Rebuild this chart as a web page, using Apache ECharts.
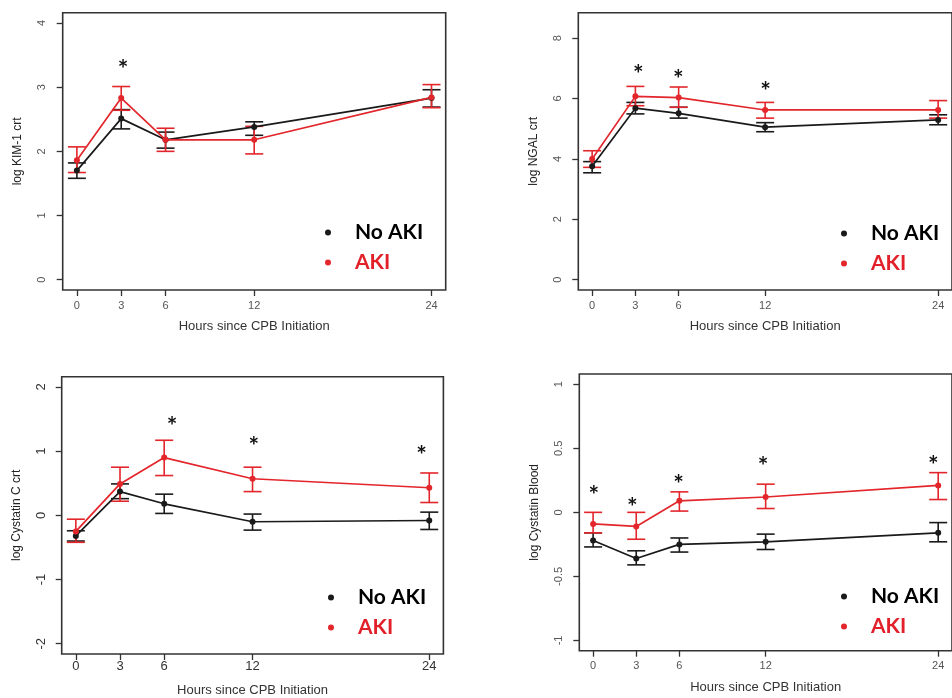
<!DOCTYPE html>
<html><head><meta charset="utf-8">
<script src="https://cdn.jsdelivr.net/npm/echarts@6/dist/echarts.min.js"></script>
<style>html,body{margin:0;padding:0;background:#fff}#c{width:952px;height:698px}</style>
</head><body><div id="c"></div>
<script>
// ---- shared ----
const hours = [0, 3, 6, 12, 24];
const xTickLabels = [0, 3, 6, 12, 24];
const seriesNames = ['No AKI', 'AKI'];

// ---- Panel 1: log KIM-1 crt ----
const kimNoAki   = [1.70, 2.51, 2.18, 2.38, 2.83];
const kimNoAkiLo = [1.58, 2.35, 2.05, 2.25, 2.69];
const kimNoAkiHi = [1.82, 2.65, 2.30, 2.46, 2.96];
const kimAki     = [1.86, 2.83, 2.18, 2.18, 2.84];
const kimAkiLo   = [1.67, 2.64, 2.00, 1.96, 2.68];
const kimAkiHi   = [2.07, 3.01, 2.36, 2.39, 3.04];
const kimStarX   = [3.13];
const kimStarY   = [3.34];
const kimTicks   = [0, 1, 2, 3, 4];

// ---- Panel 2: log NGAL crt ----
const ngalNoAki   = [3.76, 5.68, 5.51, 5.05, 5.29];
const ngalNoAkiLo = [3.54, 5.49, 5.35, 4.90, 5.13];
const ngalNoAkiHi = [3.91, 5.87, 5.71, 5.20, 5.46];
const ngalAki     = [4.00, 6.07, 6.03, 5.62, 5.62];
const ngalAkiLo   = [3.72, 5.76, 5.71, 5.35, 5.35];
const ngalAkiHi   = [4.27, 6.40, 6.38, 5.87, 5.93];
const ngalStarX   = [3.2, 5.97, 12.02];
const ngalStarY   = [6.95, 6.79, 6.38];
const ngalTicks   = [0, 2, 4, 6, 8];

// ---- Panel 3: log Cystatin C crt ----
const cyscNoAki   = [-0.32, 0.37, 0.18, -0.10, -0.08];
const cyscNoAkiLo = [-0.40, 0.26, 0.03, -0.23, -0.22];
const cyscNoAkiHi = [-0.24, 0.49, 0.33, 0.02, 0.05];
const cyscAki     = [-0.25, 0.49, 0.90, 0.57, 0.43];
const cyscAkiLo   = [-0.42, 0.22, 0.62, 0.37, 0.20];
const cyscAkiHi   = [-0.06, 0.75, 1.17, 0.75, 0.66];
const cyscStarX   = [6.54, 12.09, 23.48];
const cyscStarY   = [1.45, 1.14, 1.01];
const cyscTicks   = [-2, -1, 0, 1, 2];

// ---- Panel 4: log Cystatin Blood ----
const cysbNoAki   = [-0.22, -0.36, -0.25, -0.23, -0.16];
const cysbNoAkiLo = [-0.27, -0.41, -0.31, -0.29, -0.23];
const cysbNoAkiHi = [-0.16, -0.30, -0.20, -0.17, -0.08];
const cysbAki     = [-0.09, -0.11, 0.09, 0.12, 0.21];
const cysbAkiLo   = [-0.16, -0.21, 0.01, 0.03, 0.10];
const cysbAkiHi   = [0.00, 0.00, 0.16, 0.22, 0.31];
const cysbStarX   = [0.05, 2.72, 5.94, 11.82, 23.66];
const cysbStarY   = [0.17, 0.07, 0.25, 0.39, 0.40];
const cysbTicks   = [-1, -0.5, 0, 0.5, 1];

const BLACK = '#1a1a1a';
const RED = '#e3262b';

const panels = [
  { yName: 'log KIM-1 crt', yMin: -0.16, yMax: 4.16, yTicks: kimTicks,
    no: [kimNoAki, kimNoAkiLo, kimNoAkiHi], aki: [kimAki, kimAkiLo, kimAkiHi], star: [kimStarX, kimStarY],
    grid: { left: 62.7, top: 12.7, width: 383, height: 277.3 },
    legend: { left: 325, top: 222 }, tickFont: 11, tickColor: '#555', xMargin: 10, yMargin: 15, xGap: 30 },
  { yName: 'log NGAL crt', yMin: -0.34, yMax: 8.84, yTicks: ngalTicks,
    no: [ngalNoAki, ngalNoAkiLo, ngalNoAkiHi], aki: [ngalAki, ngalAkiLo, ngalAkiHi], star: [ngalStarX, ngalStarY],
    grid: { left: 578.3, top: 12.7, width: 383, height: 277.3 },
    legend: { left: 841, top: 223 }, tickFont: 11, tickColor: '#555', xMargin: 10, yMargin: 15, xGap: 30 },
  { yName: 'log Cystatin C crt', yMin: -2.16, yMax: 2.16, yTicks: cyscTicks,
    no: [cyscNoAki, cyscNoAkiLo, cyscNoAkiHi], aki: [cyscAki, cyscAkiLo, cyscAkiHi], star: [cyscStarX, cyscStarY],
    grid: { left: 61.7, top: 376.7, width: 381.7, height: 277.3 },
    legend: { left: 328, top: 587 }, tickFont: 13, tickColor: '#333', xMargin: 6, yMargin: 14, xGap: 30 },
  { yName: 'log Cystatin Blood', yMin: -1.08, yMax: 1.08, yTicks: cysbTicks,
    no: [cysbNoAki, cysbNoAkiLo, cysbNoAkiHi], aki: [cysbAki, cysbAkiLo, cysbAkiHi], star: [cysbStarX, cysbStarY],
    grid: { left: 579.3, top: 374, width: 383, height: 276.7 },
    legend: { left: 841, top: 586 }, tickFont: 11, tickColor: '#555', xMargin: 10, yMargin: 15, xGap: 30 }
];

function errRender(color) {
  return function (params, api) {
    const x = api.value(0), lo = api.value(1), hi = api.value(2);
    const a = api.coord([x, hi]), b = api.coord([x, lo]);
    const w = 9;
    const style = { stroke: color, lineWidth: 1.6 };
    return { type: 'group', children: [
      { type: 'line', shape: { x1: a[0], y1: a[1], x2: b[0], y2: b[1] }, style: style },
      { type: 'line', shape: { x1: a[0] - w, y1: a[1], x2: a[0] + w, y2: a[1] }, style: style },
      { type: 'line', shape: { x1: b[0] - w, y1: b[1], x2: b[0] + w, y2: b[1] }, style: style }
    ] };
  };
}
function starRender(params, api) {
  const p = api.coord([api.value(0), api.value(1)]);
  return { type: 'text', x: p[0], y: p[1] + 5,
    style: { text: '*', fill: '#111', fontSize: 25, fontWeight: 'bold', fontFamily: 'Lato', align: 'center', verticalAlign: 'middle' } };
}

const grids = [], xAxes = [], yAxes = [], series = [], legends = [];
panels.forEach(function (p, i) {
  grids.push(Object.assign({ show: true, borderColor: '#333', borderWidth: 1.6, backgroundColor: 'transparent' }, p.grid));
  xAxes.push({
    type: 'value', gridIndex: i, min: -0.96, max: 24.96,
    axisLine: { show: false, onZero: false },
    axisTick: { show: true, inside: false, customValues: xTickLabels, length: 6, lineStyle: { color: '#333', width: 1.3 } },
    axisLabel: { customValues: xTickLabels, margin: p.xMargin, fontSize: p.tickFont, color: p.tickColor, fontFamily: 'Liberation Sans' },
    splitLine: { show: false },
    name: 'Hours since CPB Initiation', nameLocation: 'middle', nameGap: p.xGap,
    nameTextStyle: { fontSize: 13, color: '#333', fontFamily: 'Liberation Sans' }
  });
  yAxes.push({
    type: 'value', gridIndex: i, min: p.yMin, max: p.yMax,
    axisLine: { show: false, onZero: false },
    axisTick: { show: true, inside: false, customValues: p.yTicks, length: 6, lineStyle: { color: '#333', width: 1.3 } },
    axisLabel: { customValues: p.yTicks, rotate: 90, margin: p.yMargin, fontSize: p.tickFont, color: p.tickColor, fontFamily: 'Liberation Sans' },
    splitLine: { show: false },
    name: p.yName, nameLocation: 'middle', nameGap: 39,
    nameTextStyle: { fontSize: 12, color: '#222', fontFamily: 'Liberation Sans' }
  });
  [[p.no, BLACK, seriesNames[0]], [p.aki, RED, seriesNames[1]]].forEach(function (g) {
    const d = g[0];
    series.push({
      type: 'custom', xAxisIndex: i, yAxisIndex: i, renderItem: errRender(g[1]),
      encode: { x: 0, y: [1, 2] }, silent: true, z: 2,
      data: hours.map(function (h, k) { return [h, d[1][k], d[2][k]]; })
    });
    series.push({
      type: 'line', name: g[2], xAxisIndex: i, yAxisIndex: i, color: g[1],
      symbol: 'circle', symbolSize: 6, lineStyle: { width: 1.7, color: g[1] }, itemStyle: { color: g[1] },
      z: 3, data: hours.map(function (h, k) { return [h, d[0][k]]; })
    });
  });
  series.push({
    type: 'custom', xAxisIndex: i, yAxisIndex: i, renderItem: starRender, silent: true, z: 4,
    encode: { x: 0, y: 1 },
    data: p.star[0].map(function (x, k) { return [x, p.star[1][k]]; })
  });
  legends.push({
    left: p.legend.left, top: p.legend.top, orient: 'vertical', padding: 0, itemGap: 9,
    itemWidth: 44, itemHeight: 6, icon: 'circle', selectedMode: false,
    textStyle: { fontFamily: 'Lato', fontWeight: 'bold', fontSize: 21 },
    data: [{ name: seriesNames[0], textStyle: { color: '#000' } }, { name: seriesNames[1], textStyle: { color: '#e2202a' } }]
  });
});

const chart = echarts.init(document.getElementById('c'), null, { renderer: 'canvas' });
chart.setOption({
  animation: false, backgroundColor: '#fff',
  grid: grids, xAxis: xAxes, yAxis: yAxes, legend: legends, series: series
});
</script></body></html>
